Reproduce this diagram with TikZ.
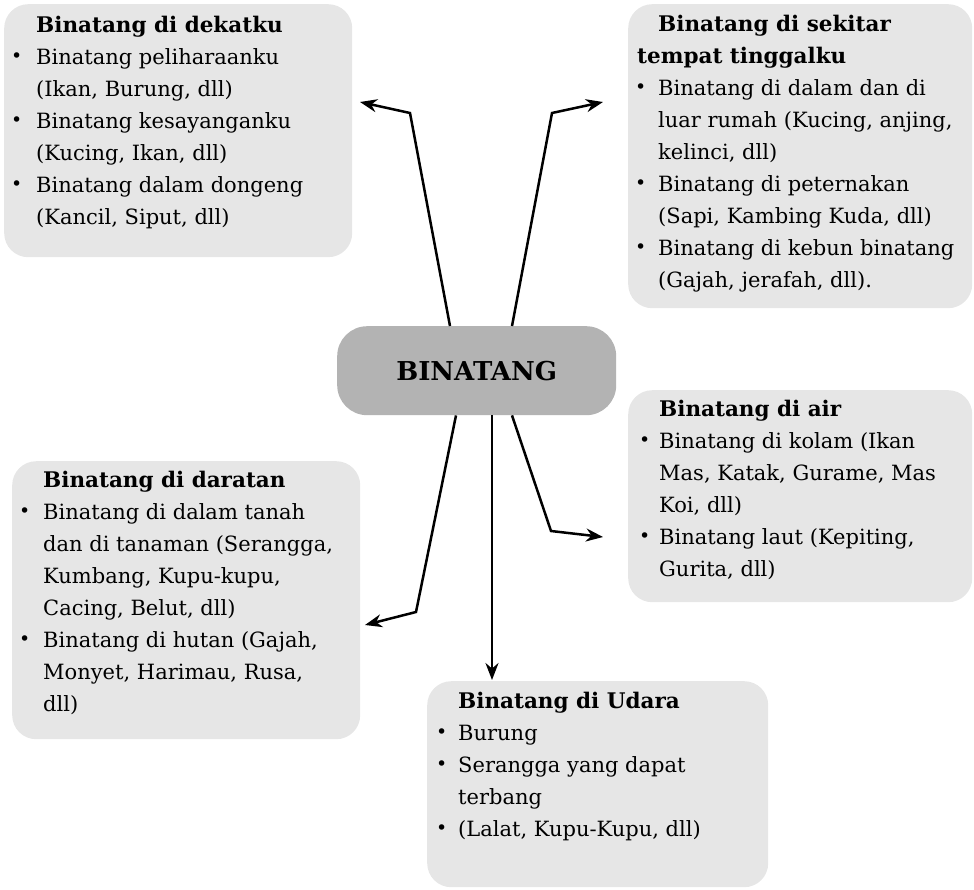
\documentclass[tikz,border=0pt]{standalone}
\usepackage{fontspec}
\usepackage{graphicx}
\setmainfont{DejaVu Serif}
\usetikzlibrary{arrows.meta}
\definecolor{boxgray}{HTML}{E6E6E6}
\definecolor{hubgray}{HTML}{B3B3B3}
\newcommand{\bl}{\raisebox{0.08em}{\scalebox{0.9}{\textbullet}}}
\newcommand{\ttl}[1]{{\fontsize{21.5}{32}\selectfont\bfseries #1}}
\tikzset{
  panel/.style={fill=boxgray, draw=none, rounded corners=24pt, anchor=north west, inner sep=0pt},
  hub/.style={fill=hubgray, draw=none, rounded corners=30pt, anchor=north west, inner sep=0pt,
    minimum width=279pt, minimum height=89pt},
  hubtxt/.style={inner sep=0pt, font=\bfseries\fontsize{26}{30}\selectfont},
  txt/.style={anchor=base west, inner sep=0pt, align=left, font=\fontsize{21}{32}\selectfont},
  arr/.style={line width=2.5pt, -{Stealth[length=17pt,width=13pt]}}
}
\begin{document}
\begin{tikzpicture}[x=1pt,y=-1pt]
\useasboundingbox (0,0) rectangle (974,889);
% boxes
\node[panel, minimum width=348pt, minimum height=253pt] (b1) at (4,4) {};
\node[panel, minimum width=344pt, minimum height=304pt] (b2) at (628,4) {};
\node[panel, minimum width=348pt, minimum height=278pt] (b3) at (12,461) {};
\node[panel, minimum width=344pt, minimum height=212pt] (b4) at (628,390) {};
\node[panel, minimum width=341pt, minimum height=206pt] (b5) at (427,681) {};
\node[hub] (hub) at (337,326) {};
\node[hubtxt] (hubt) at (hub.center) {BINATANG};
% texts
\node[txt] (t1) at (11,32) {\begin{tabular}[t]{@{}p{25pt}@{}l@{}}
 & \ttl{Binatang di dekatku}\\
\bl & Binatang peliharaanku\\
 & (Ikan, Burung, dll)\\
\bl & Binatang kesayanganku\\
 & (Kucing, Ikan, dll)\\
\bl & Binatang dalam dongeng\\
 & (Kancil, Siput, dll)
\end{tabular}};
\node[txt] (t2) at (635,31) {\begin{tabular}[t]{@{}p{23pt}@{}l@{}}
 & \ttl{Binatang di sekitar}\\
\multicolumn{2}{@{}l@{}}{\hspace{2pt}\ttl{tempat tinggalku}}\\
\bl & Binatang di dalam dan di\\
 & luar rumah (Kucing, anjing,\\
 & kelinci, dll)\\
\bl & Binatang di peternakan\\
 & (Sapi, Kambing Kuda, dll)\\
\bl & Binatang di kebun binatang\\
 & (Gajah, jerafah, dll).
\end{tabular}};
\node[txt] (t3) at (19,487) {\begin{tabular}[t]{@{}p{24pt}@{}l@{}}
 & \ttl{Binatang di daratan}\\
\bl & Binatang di dalam tanah\\
 & dan di tanaman (Serangga,\\
 & Kumbang, Kupu-kupu,\\
 & Cacing, Belut, dll)\\
\bl & Binatang di hutan (Gajah,\\
 & Monyet, Harimau, Rusa,\\
 & dll)
\end{tabular}};
\node[txt] (t4) at (639,416) {\begin{tabular}[t]{@{}p{20pt}@{}l@{}}
 & \ttl{Binatang di air}\\
\bl & Binatang di kolam (Ikan\\
 & Mas, Katak, Gurame, Mas\\
 & Koi, dll)\\
\bl & Binatang laut (Kepiting,\\
 & Gurita, dll)
\end{tabular}};
\node[txt] (t5) at (436,708) {\begin{tabular}[t]{@{}p{22pt}@{}l@{}}
 & \ttl{Binatang di Udara}\\
\bl & Burung\\
\bl & Serangga yang dapat\\
 & terbang\\
\bl & (Lalat, Kupu-Kupu, dll)
\end{tabular}};
% connectors
\coordinate (k1) at (410,113); \coordinate (e1) at (360,102);
\coordinate (k2) at (552,113); \coordinate (e2) at (603,102);
\coordinate (k3) at (416,612); \coordinate (e3) at (365,625);
\coordinate (k5) at (551,531); \coordinate (e5) at (603,537);
\draw[arr] ([xshift=113pt]hub.north west) -- (k1) -- (e1);
\draw[arr] ([xshift=175pt]hub.north west) -- (k2) -- (e2);
\draw[arr] ([xshift=119pt]hub.south west) -- (k3) -- (e3);
\draw[arr] ([xshift=155pt]hub.south west) -- ([xshift=65pt,yshift=1pt]b5.north west);
\draw[arr] ([xshift=175pt]hub.south west) -- (k5) -- (e5);
\end{tikzpicture}
\end{document}
